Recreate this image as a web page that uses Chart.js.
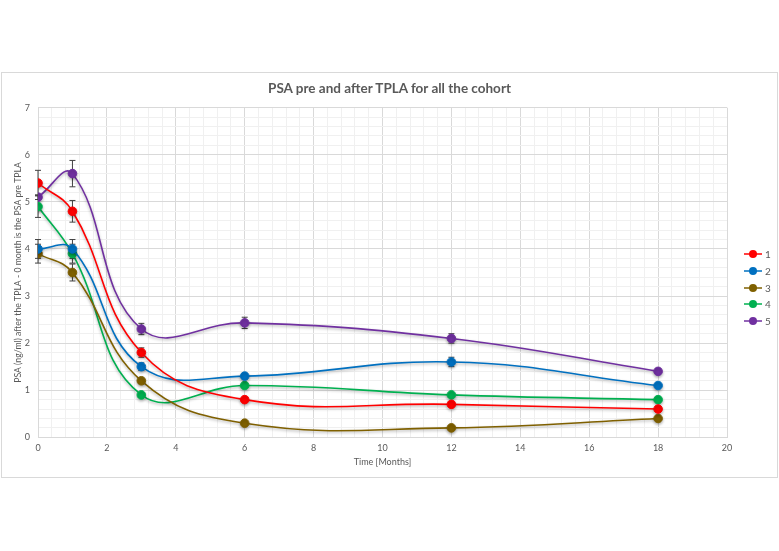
<!DOCTYPE html>
<html>
<head>
<meta charset="utf-8">
<script src="https://cdn.jsdelivr.net/npm/chart.js"></script>
<style>
body{margin:0;background:#fff;width:779px;height:551px;overflow:hidden;font-family:Lato,sans-serif;}
#frame{position:absolute;left:1px;top:72px;width:775px;height:404px;border:1px solid #d9d9d9;}
#wrap{position:absolute;left:0;top:72px;width:779px;height:406px;}
#title{position:absolute;left:0;top:80px;width:779px;text-align:center;font-size:13.5px;font-weight:bold;color:#595959;}
#legend{position:absolute;left:744px;top:246px;font-size:10px;color:#595959;}
.item{height:16.7px;display:flex;align-items:center;}
.item span{margin-left:3px;}
</style>
</head>
<body>
<div id="frame"></div>
<div id="wrap"><canvas id="myChart"></canvas></div>
<div id="title">PSA pre and after TPLA for all the cohort</div>
<div id="legend"></div>
<script>
// time points (months) and mean PSA per group
var months = [0, 1, 3, 6, 12, 18];
var groupNames = ['1', '2', '3', '4', '5'];
var psa1 = [5.4, 4.8, 1.8, 0.8, 0.7, 0.6];
var psa2 = [4.0, 4.0, 1.5, 1.3, 1.6, 1.1];
var psa3 = [3.9, 3.5, 1.2, 0.3, 0.2, 0.4];
var psa4 = [4.9, 3.9, 0.9, 1.1, 0.9, 0.8];
var psa5 = [5.1, 5.6, 2.3, 2.43, 2.1, 1.4];
// error bar half widths
var err1 = [0.27, 0.23, 0.1, 0.04, 0.04, 0.03];
var err2 = [0.2, 0.2, 0.08, 0.06, 0.1, 0.04];
var err3 = [0.2, 0.18, 0.06, 0.03, 0.02, 0.03];
var err4 = [0.23, 0.2, 0.05, 0.04, 0.03, 0.03];
var err5 = [0.05, 0.28, 0.12, 0.12, 0.1, 0.06];
var colors = ['#ff0000', '#0070c0', '#7f6000', '#00b050', '#7030a0'];

var allPsa = [psa1, psa2, psa3, psa4, psa5];
var allErr = [err1, err2, err3, err4, err5];

var datasets = allPsa.map(function (vals, i) {
  return {
    label: groupNames[i],
    data: vals.map(function (v, j) { return { x: months[j], y: v }; }),
    borderColor: colors[i],
    backgroundColor: colors[i],
    borderWidth: 1.6,
    pointRadius: 4.3,
    pointHoverRadius: 4.3,
    pointBorderWidth: 1,
    tension: 0.42,
    errs: allErr[i]
  };
});

function isWhole(v, step) {
  var r = v / step;
  return Math.abs(r - Math.round(r)) < 1e-6;
}

var errorBars = {
  id: 'errorBars',
  beforeDatasetsDraw: function (chart) {
    var ctx = chart.ctx;
    var xs = chart.scales.x, ys = chart.scales.y;
    ctx.save();
    ctx.strokeStyle = '#404040';
    ctx.lineWidth = 1;
    chart.data.datasets.forEach(function (ds) {
      ds.data.forEach(function (p, j) {
        var e = ds.errs[j];
        var px = xs.getPixelForValue(p.x);
        var t = ys.getPixelForValue(p.y + e);
        var b = ys.getPixelForValue(p.y - e);
        ctx.beginPath();
        ctx.moveTo(px, t); ctx.lineTo(px, b);
        ctx.moveTo(px - 3, t); ctx.lineTo(px + 3, t);
        ctx.moveTo(px - 3, b); ctx.lineTo(px + 3, b);
        ctx.stroke();
      });
    });
    ctx.restore();
  }
};

var shadow = {
  id: 'shadow',
  beforeDatasetDraw: function (chart) {
    var ctx = chart.ctx;
    ctx.save();
    ctx.shadowColor = 'rgba(0,0,0,0.3)';
    ctx.shadowBlur = 3;
    ctx.shadowOffsetY = 1.5;
  },
  afterDatasetDraw: function (chart) {
    chart.ctx.restore();
  }
};

new Chart('myChart', {
  type: 'line',
  data: { datasets: datasets },
  plugins: [errorBars, shadow],
  options: {
    responsive: true,
    maintainAspectRatio: false,
    animation: false,
    layout: { padding: { left: 0, right: 52, top: 35.7, bottom: 0 } },
    plugins: {
      legend: { display: false },
      tooltip: { enabled: false }
    },
    scales: {
      x: {
        type: 'linear',
        min: 0,
        max: 20,
        ticks: {
          stepSize: 0.4,
          autoSkip: false,
          maxRotation: 0,
          padding: 5,
          color: '#595959',
          font: { family: 'Lato', size: 9 },
          callback: function (v) { return isWhole(v, 2) ? Math.round(v) : ''; }
        },
        grid: {
          drawTicks: false,
          color: function (c) { return isWhole(c.tick.value, 2) ? '#d9d9d9' : '#f0f0f0'; }
        },
        border: { color: '#d9d9d9' },
        title: {
          display: true,
          text: 'Time [Months]',
          color: '#595959',
          font: { family: 'Lato', size: 9 },
          padding: { top: 0, bottom: 10.5 }
        },
        afterFit: function (s) { s.height = 40.7; }
      },
      y: {
        min: 0,
        max: 7,
        ticks: {
          stepSize: 0.2,
          autoSkip: false,
          padding: 8,
          color: '#595959',
          font: { family: 'Lato', size: 9 },
          callback: function (v) { return isWhole(v, 1) ? Math.round(v) : ''; }
        },
        grid: {
          drawTicks: false,
          color: function (c) { return isWhole(c.tick.value, 1) ? '#d9d9d9' : '#f0f0f0'; }
        },
        border: { color: '#d9d9d9' },
        title: {
          display: true,
          text: 'PSA (ng/ml) after the TPLA - 0 month is the PSA pre TPLA',
          color: '#595959',
          font: { family: 'Lato', size: 8.7 },
          padding: { top: 12.5, bottom: 0 }
        },
        afterFit: function (s) { s.width = 38; }
      }
    }
  }
});

// legend, built from the same names and colours
var legend = document.getElementById('legend');
groupNames.forEach(function (n, i) {
  var d = document.createElement('div');
  d.className = 'item';
  d.innerHTML = '<svg width="18" height="10"><line x1="0" y1="5" x2="18" y2="5" stroke="' + colors[i] +
    '" stroke-width="1.5"/><circle cx="9" cy="5" r="4" fill="' + colors[i] + '"/></svg><span>' + n + '</span>';
  legend.appendChild(d);
});
</script>
</body>
</html>
